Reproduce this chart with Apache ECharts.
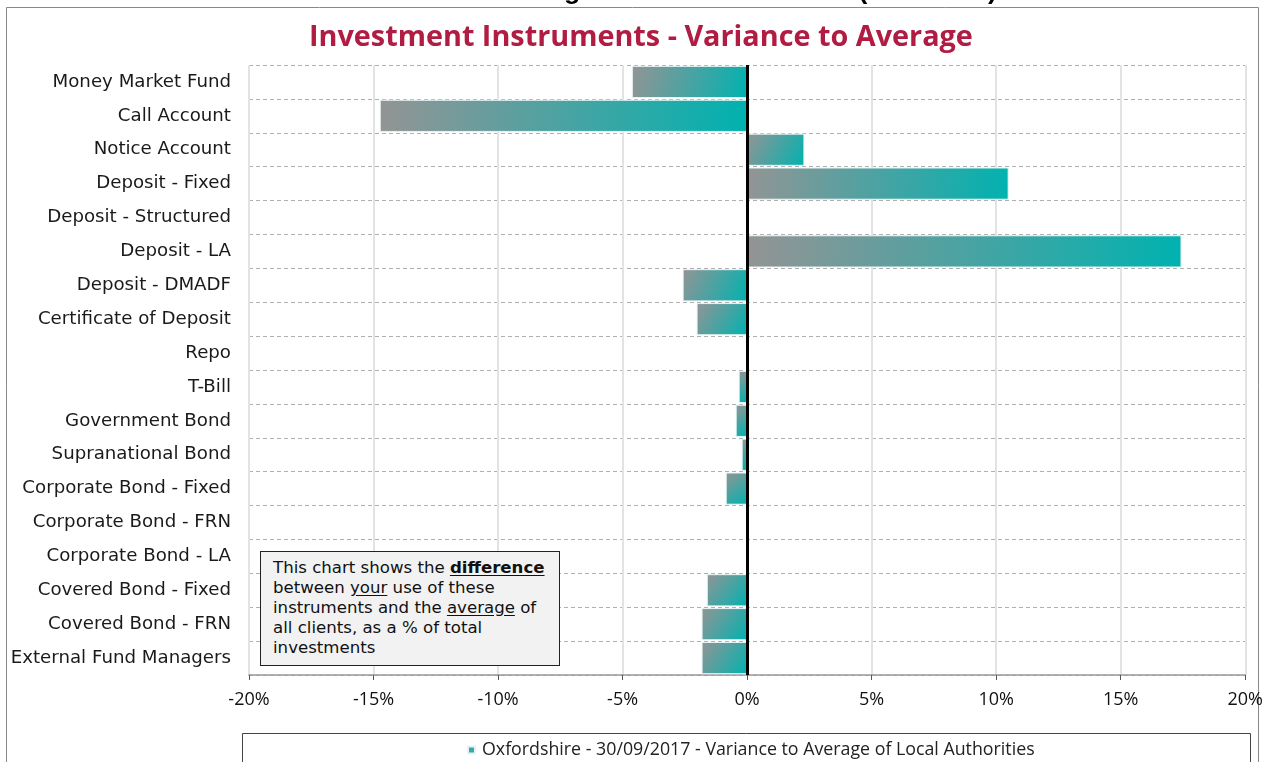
<!DOCTYPE html>
<html>
<head>
<meta charset="utf-8">
<script src="https://cdn.jsdelivr.net/npm/echarts@6/dist/echarts.min.js"></script>
<style>
html,body{margin:0;padding:0;background:#fff;overflow:hidden;}
#chart{width:1266px;height:762px;position:absolute;left:0;top:0;}
#note{position:absolute;left:260px;top:551px;width:286px;height:101px;background:#f2f2f2;border:1.5px solid #222;
font-family:"DejaVu Sans",sans-serif;font-size:16.6px;line-height:20px;color:#111;padding:6px 0 6px 12px;white-space:nowrap;}
#note u{text-underline-offset:2px;}
</style>
</head>
<body>
<div id="chart"></div>
<div id="note">This chart shows the <b><u>difference</u></b><br>between <u>your</u> use of these<br>instruments and the <u>average</u> of<br>all clients, as a % of total<br>investments</div>
<script>
var categories = ["Money Market Fund","Call Account","Notice Account","Deposit - Fixed","Deposit - Structured","Deposit - LA","Deposit - DMADF","Certificate of Deposit","Repo","T-Bill","Government Bond","Supranational Bond","Corporate Bond - Fixed","Corporate Bond - FRN","Corporate Bond - LA","Covered Bond - Fixed","Covered Bond - FRN","External Fund Managers"];
var variance = [-4.63,-14.75,2.3,10.5,0,17.44,-2.59,-2.03,0,-0.34,-0.46,-0.22,-0.86,0,0,-1.62,-1.83,-1.83];
var seriesName = "Oxfordshire - 30/09/2017 - Variance to Average of Local Authorities";
var chartTitle = "Investment Instruments - Variance to Average";
var topTitle = "Investment Instruments - Variance to Average of Local Authorities (all clients)";

var chart = echarts.init(document.getElementById('chart'));
var grad = new echarts.graphic.LinearGradient(0,0,1,1,[{offset:0,color:'#949494'},{offset:1,color:'#00b2b0'}]);
chart.setOption({
  animation:false,
  title:{text:chartTitle,left:304,top:18,textStyle:{fontFamily:'Open Sans',fontWeight:'bold',fontSize:28.8,color:'#b01c42'}},
  graphic:[
    {type:'rect',shape:{x:6.5,y:7.5,width:1252,height:800},style:{fill:'none',stroke:'#888',lineWidth:1},z:-10},
    {type:'rect',shape:{x:242.5,y:733.5,width:1008,height:60},style:{fill:'#fff',stroke:'#444',lineWidth:1},z:-5},
    {type:'text',style:{x:20,y:5,text:topTitle,fontSize:26.5,fontWeight:'bold',fontFamily:'Liberation Sans',fill:'#000',textVerticalAlign:'bottom',textAlign:'left'}}
  ],
  legend:{data:[{name:seriesName,itemStyle:{color:'#3aa8a8'}}],left:462,top:736,icon:'rect',itemWidth:7,itemHeight:7,itemGap:4,
    textStyle:{fontFamily:'Open Sans',fontSize:17.8,color:'#222',padding:[0,0,0,2]}},
  grid:{left:249,right:20,top:65,bottom:87},
  xAxis:{type:'value',min:-20,max:20,interval:5,
    axisLine:{show:true,lineStyle:{color:'#999',width:1.5}},
    axisTick:{show:true,length:5,lineStyle:{color:'#555'}},
    axisLabel:{formatter:'{value}%',fontFamily:'Open Sans',fontSize:18,color:'#111',margin:16},
    splitLine:{show:true,lineStyle:{color:'#e3e3e3',width:2}}},
  yAxis:{type:'category',data:categories,inverse:true,
    axisLine:{show:false,onZero:false},axisTick:{show:false},
    axisLabel:{fontFamily:'DejaVu Sans',fontSize:18.2,color:'#1a1a1a',margin:18},
    splitLine:{show:true,lineStyle:{color:'#b0b0b0',type:[4,3],width:1}}},
  series:[{name:seriesName,type:'bar',data:variance,barCategoryGap:'5%',
    itemStyle:{color:grad,borderColor:'#e8f4f4',borderWidth:1},
    markLine:{silent:true,symbol:'none',label:{show:false},lineStyle:{color:'#000',width:3,type:'solid'},data:[{xAxis:0}]}}]
});
</script>
</body>
</html>
